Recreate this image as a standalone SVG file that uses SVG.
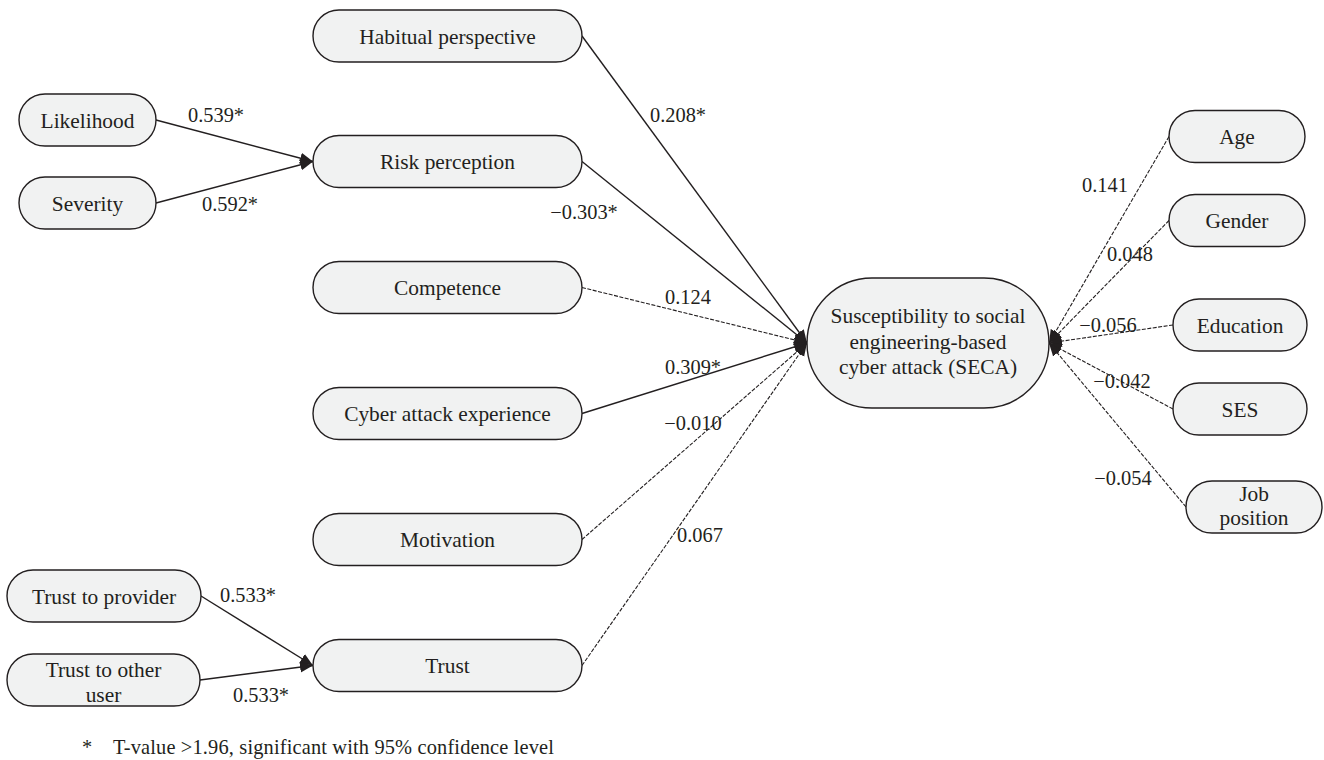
<svg xmlns="http://www.w3.org/2000/svg" width="1324" height="760" viewBox="0 0 1324 760">
<style>
.node rect{fill:#f1f2f2;stroke:#231f20;stroke-width:1.4}
text{font-family:"Liberation Serif","Times New Roman",serif;fill:#231f20}
.nt{font-size:21.4px;text-anchor:middle}
.lb{font-size:20.4px;text-anchor:middle}
.foot{font-size:20.4px}
.s{stroke:#231f20;stroke-width:1.4;fill:none}
.d{stroke:#231f20;stroke-width:1.1;fill:none;stroke-dasharray:4 1.5}
</style>
<defs>
<marker id="ah" markerUnits="userSpaceOnUse" markerWidth="14" markerHeight="12" refX="13" refY="5.5" orient="auto">
<path d="M0,0 L13,5.5 L0,11 z" fill="#231f20"/>
</marker>
</defs>
<rect width="1324" height="760" fill="#ffffff"/>
<g id="connectors">
<line class="s" x1="156" y1="120" x2="313" y2="161.5" marker-end="url(#ah)"/>
<line class="s" x1="156" y1="203" x2="313" y2="161.5" marker-end="url(#ah)"/>
<line class="s" x1="201" y1="596" x2="313" y2="665.5" marker-end="url(#ah)"/>
<line class="s" x1="200" y1="680" x2="313" y2="665.5" marker-end="url(#ah)"/>
<line class="s" x1="582" y1="36" x2="807" y2="343" marker-end="url(#ah)"/>
<line class="s" x1="582" y1="161.5" x2="807" y2="343" marker-end="url(#ah)"/>
<line class="d" x1="582" y1="287.5" x2="807" y2="343" marker-end="url(#ah)"/>
<line class="s" x1="582" y1="413.5" x2="807" y2="343" marker-end="url(#ah)"/>
<line class="d" x1="582" y1="539.5" x2="807" y2="343" marker-end="url(#ah)"/>
<line class="d" x1="582" y1="665.5" x2="807" y2="343" marker-end="url(#ah)"/>
<line class="d" x1="1169" y1="136.5" x2="1049" y2="343" marker-end="url(#ah)"/>
<line class="d" x1="1169" y1="220.5" x2="1049" y2="343" marker-end="url(#ah)"/>
<line class="d" x1="1173" y1="325" x2="1049" y2="343" marker-end="url(#ah)"/>
<line class="d" x1="1173" y1="409" x2="1049" y2="343" marker-end="url(#ah)"/>
<line class="d" x1="1186" y1="507" x2="1049" y2="343" marker-end="url(#ah)"/>
<text class="lb" x="216" y="122">0.539*</text>
<text class="lb" x="230" y="211">0.592*</text>
<text class="lb" x="678" y="122">0.208*</text>
<text class="lb" x="584" y="219">−0.303*</text>
<text class="lb" x="688" y="304">0.124</text>
<text class="lb" x="693" y="374">0.309*</text>
<text class="lb" x="693" y="430">−0.010</text>
<text class="lb" x="700" y="542">0.067</text>
<text class="lb" x="248" y="602">0.533*</text>
<text class="lb" x="261" y="702">0.533*</text>
<text class="lb" x="1105" y="192">0.141</text>
<text class="lb" x="1130" y="261">0.048</text>
<text class="lb" x="1108" y="332">−0.056</text>
<text class="lb" x="1122" y="388">−0.042</text>
<text class="lb" x="1123" y="485">−0.054</text>
</g>
<g id="n-habitual" class="node"><rect x="313" y="10" width="269" height="52" rx="26"/><text class="nt" x="447.5" y="43.5">Habitual perspective</text></g>
<g id="n-risk" class="node"><rect x="313" y="135.5" width="269" height="52" rx="26"/><text class="nt" x="447.5" y="169">Risk perception</text></g>
<g id="n-competence" class="node"><rect x="313" y="261.5" width="269" height="52" rx="26"/><text class="nt" x="447.5" y="295">Competence</text></g>
<g id="n-cyber" class="node"><rect x="313" y="387.5" width="269" height="52" rx="26"/><text class="nt" x="447.5" y="421">Cyber attack experience</text></g>
<g id="n-motivation" class="node"><rect x="313" y="513.5" width="269" height="52" rx="26"/><text class="nt" x="447.5" y="547">Motivation</text></g>
<g id="n-trust" class="node"><rect x="313" y="639.5" width="269" height="52" rx="26"/><text class="nt" x="447.5" y="673">Trust</text></g>
<g id="n-likelihood" class="node"><rect x="19" y="94" width="137" height="52" rx="26"/><text class="nt" x="87.5" y="127.5">Likelihood</text></g>
<g id="n-severity" class="node"><rect x="19" y="177" width="137" height="52" rx="26"/><text class="nt" x="87.5" y="210.5">Severity</text></g>
<g id="n-trustprov" class="node"><rect x="7" y="570" width="194" height="52" rx="26"/><text class="nt" x="104" y="603.5">Trust to provider</text></g>
<g id="n-trustother" class="node"><rect x="7" y="654" width="193" height="52" rx="26"/><text class="nt" x="103.5" y="676.5">Trust to other</text><text class="nt" x="103.5" y="702">user</text></g>
<g id="n-seca" class="node"><rect x="807" y="278" width="242" height="130" rx="65"/><text class="nt" x="928" y="323">Susceptibility to social</text><text class="nt" x="928" y="348.5">engineering-based</text><text class="nt" x="928" y="374">cyber attack (SECA)</text></g>
<g id="n-age" class="node"><rect x="1169" y="110.5" width="136" height="52" rx="26"/><text class="nt" x="1237" y="144">Age</text></g>
<g id="n-gender" class="node"><rect x="1169" y="194.5" width="136" height="52" rx="26"/><text class="nt" x="1237" y="228">Gender</text></g>
<g id="n-education" class="node"><rect x="1173" y="299" width="134" height="52" rx="26"/><text class="nt" x="1240" y="332.5">Education</text></g>
<g id="n-ses" class="node"><rect x="1173" y="383" width="134" height="52" rx="26"/><text class="nt" x="1240" y="416.5">SES</text></g>
<g id="n-job" class="node"><rect x="1186" y="481" width="136" height="52" rx="26"/><text class="nt" x="1254" y="500.5">Job</text><text class="nt" x="1254" y="524.5">position</text></g>
<text class="foot" x="82" y="754">*</text>
<text class="foot" x="113" y="754" textLength="441" lengthAdjust="spacing">T-value &gt;1.96, significant with 95% confidence level</text>
</svg>
